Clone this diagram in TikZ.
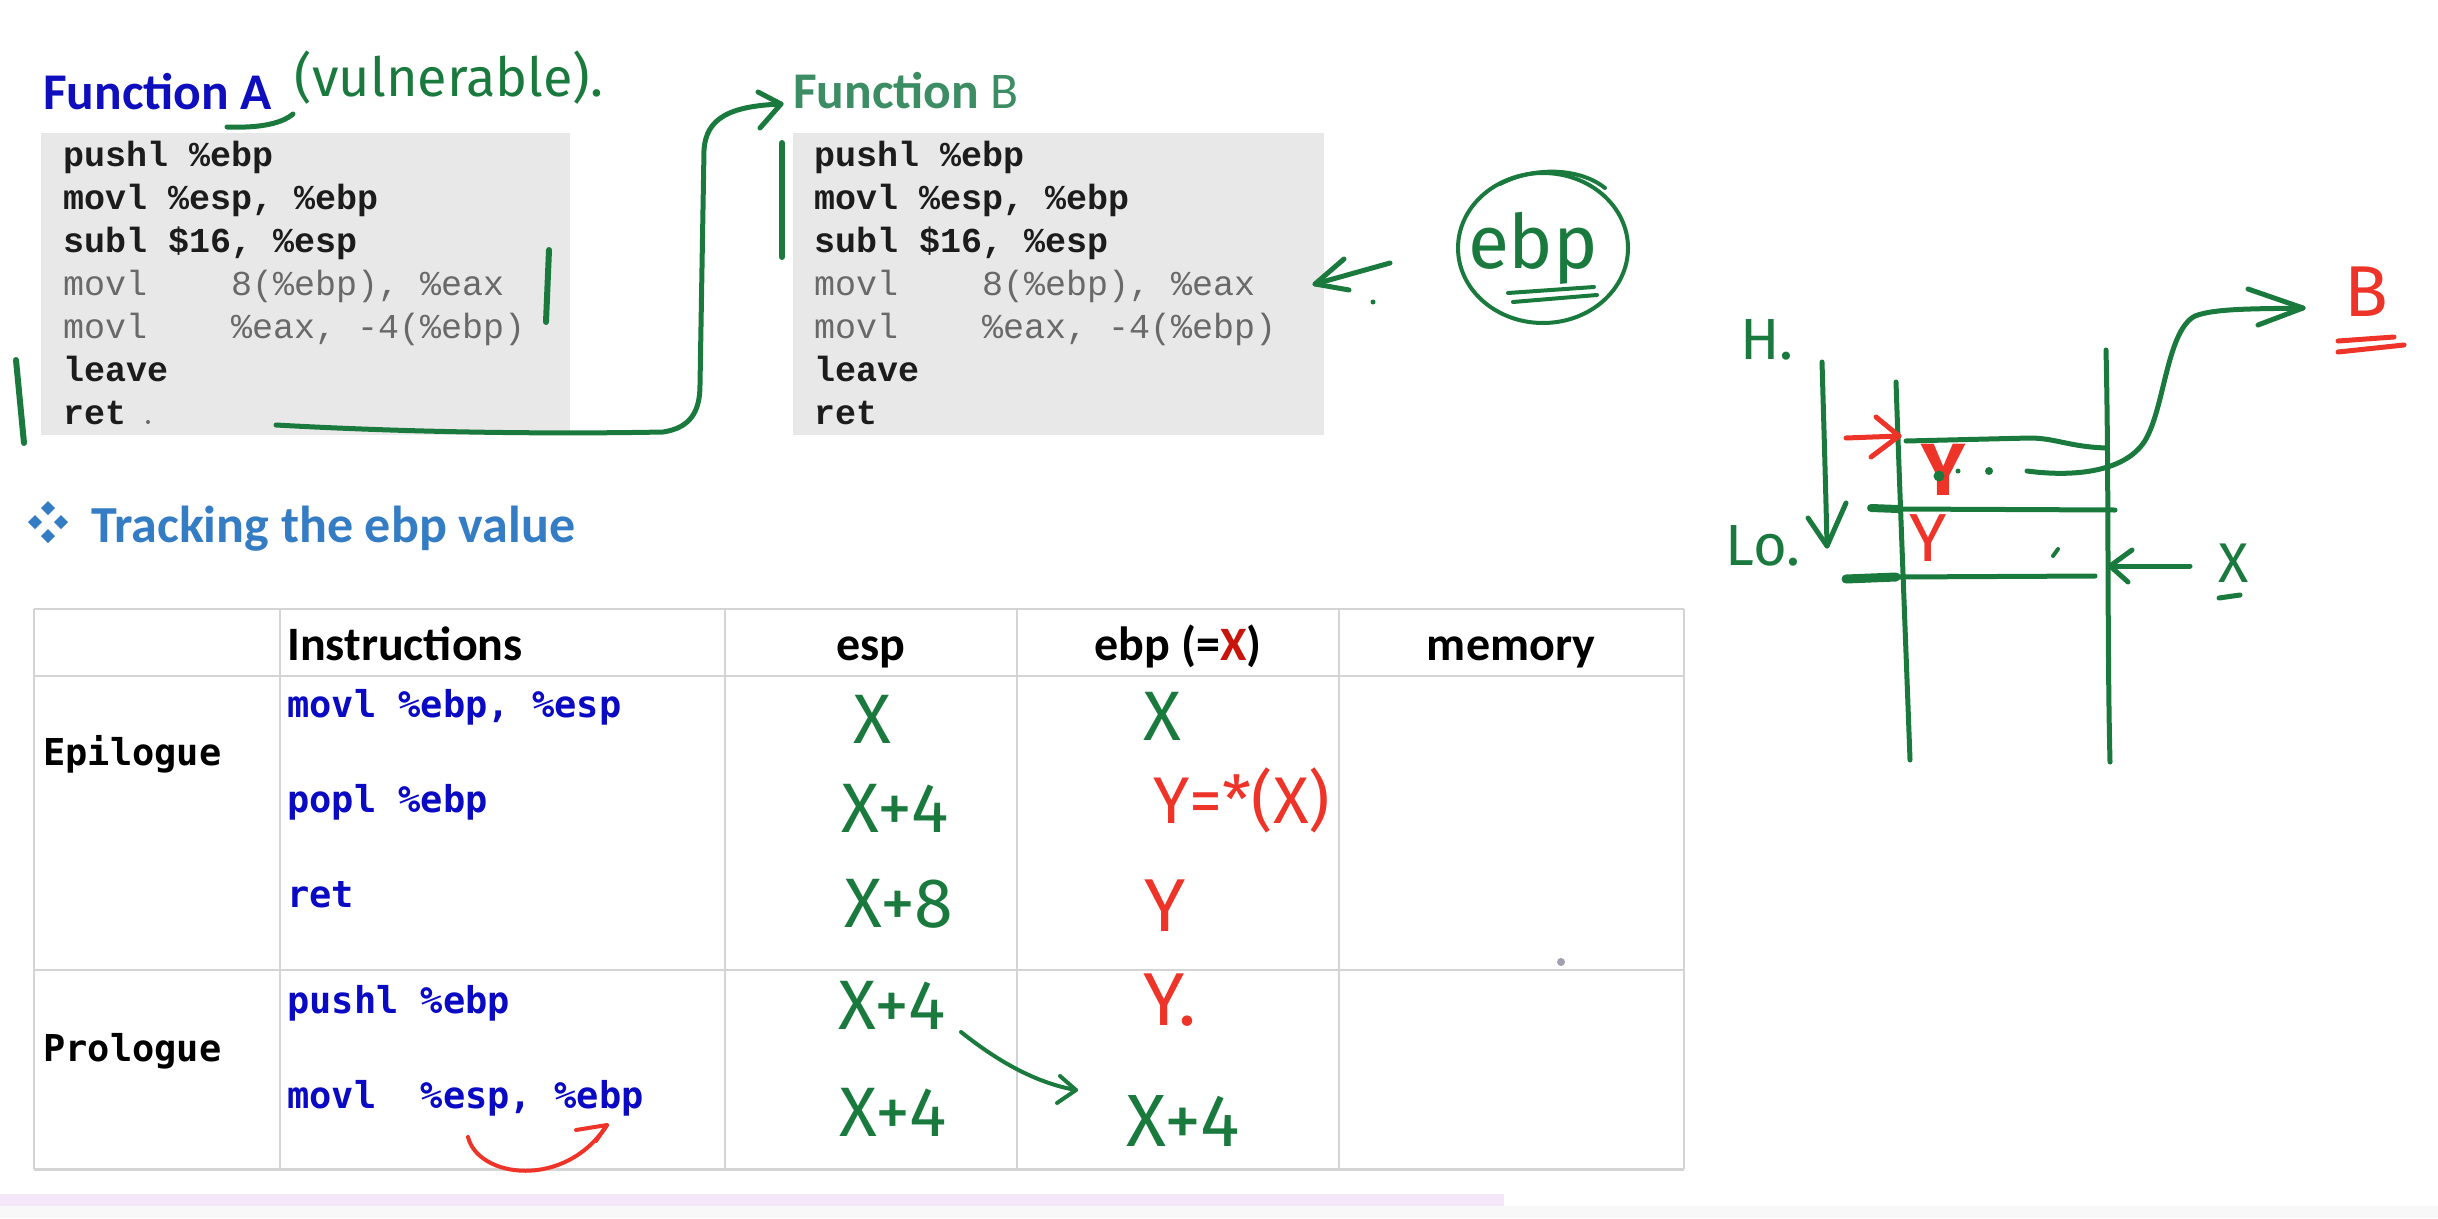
\documentclass[tikz,border=0pt]{standalone}
\usepackage{fontspec}
\setmainfont{Carlito}
\newfontfamily\codefont{Liberation Mono}
\newfontfamily\consfont{DejaVu Sans Mono}
\newfontfamily\handfont{Fira Sans}
\definecolor{hgreen}{RGB}{26,122,62}
\definecolor{hred}{RGB}{238,52,40}
\definecolor{titleblue}{RGB}{14,14,190}
\definecolor{titlegreen}{RGB}{60,140,100}
\definecolor{headblue}{RGB}{52,124,196}
\definecolor{insblue}{RGB}{10,10,196}
\definecolor{codebg}{RGB}{232,232,232}
\definecolor{codedark}{RGB}{28,28,28}
\definecolor{codegray}{RGB}{105,105,105}
\definecolor{gridgray}{RGB}{212,212,212}
\definecolor{xred}{RGB}{200,20,10}
\definecolor{bandlav}{RGB}{245,230,250}
\definecolor{bandgray}{RGB}{248,248,248}
\definecolor{dotgray}{RGB}{160,160,175}
\begin{document}
\begin{tikzpicture}[x=1pt,y=-1pt,
  pen/.style={draw=hgreen,line width=5,line cap=round,line join=round},
  rpen/.style={draw=hred,line width=5,line cap=round,line join=round},
  ttl/.style={anchor=base west,inner sep=0,font=\fontsize{51.5}{60}\selectfont},
  codeb/.style={anchor=base west,inner sep=0,text=codedark,font=\codefont\fontsize{35}{40}\selectfont\bfseries},
  coder/.style={anchor=base west,inner sep=0,text=codegray,font=\codefont\fontsize{35}{40}\selectfont},
  hand/.style={inner sep=0,text=hgreen,font=\handfont\fontsize{70}{80}\selectfont},
  rhand/.style={hand,text=hred},
  ins/.style={anchor=base west,inner sep=0,text=insblue,font=\consfont\fontsize{37}{44}\selectfont\bfseries},
  rowlab/.style={ins,text=black},
  hdr/.style={anchor=base,inner sep=0,text=black,font=\fontsize{48}{56}\selectfont\bfseries},
  grid/.style={draw=gridgray,line width=2},
  codebox/.style={fill=codebg,draw=none}
]
\useasboundingbox (0,0) rectangle (2438,1218);
\fill[white] (0,0) rectangle (2438,1218);
\fill[bandgray] (0,1206) rectangle (2438,1218);
\fill[bandlav] (0,1194) rectangle (1504,1206);

% ---------- Function A ----------
\node[ttl,text=titleblue] (fa) at (43,109) {\bfseries Function A};
\fill[codebox] (41,133) rectangle (570,435);
\node[codeb] (a1) at (63,166) {pushl \%ebp};
\node[codeb] (a2) at (63,209) {movl \%esp, \%ebp};
\node[codeb] (a3) at (63,252) {subl \$16, \%esp};
\node[coder] (a4) at (63,295) {movl\ \ \ \ 8(\%ebp), \%eax};
\node[coder] (a5) at (63,338) {movl\ \ \ \ \%eax, -4(\%ebp)};
\node[codeb] (a6) at (63,381) {leave};
\node[codeb] (a7) at (63,424) {ret};

% ---------- Function B ----------
\node[ttl,text=titlegreen] (fb) at (793,108) {\bfseries Function\mdseries\ B};
\fill[codebox] (793,133) rectangle (1324,435);
\node[codeb] (b1) at (814,166) {pushl \%ebp};
\node[codeb] (b2) at (814,209) {movl \%esp, \%ebp};
\node[codeb] (b3) at (814,252) {subl \$16, \%esp};
\node[coder] (b4) at (814,295) {movl\ \ \ \ 8(\%ebp), \%eax};
\node[coder] (b5) at (814,338) {movl\ \ \ \ \%eax, -4(\%ebp)};
\node[codeb] (b6) at (814,381) {leave};
\node[codeb] (b7) at (814,424) {ret};

% ---------- annotations top ----------
\draw[pen] (227,127) .. controls (255,128) and (280,125) .. (293,114);
\node[hand,font=\handfont\fontsize{54}{60}\selectfont] (vuln) at (449,78) {(vulnerable).};
\draw[pen,line width=6] (549,250) -- (546,322);
\draw[pen,line width=6] (16,360) -- (24,443);
\fill[codegray] (148,422) circle (2);
\coordinate (retA) at (276,425);
\coordinate (tipB) at (781,104);
\draw[pen] (retA) .. controls (420,433) and (560,434) .. (663,432)
  .. controls (690,428) and (700,412) .. (700,385)
  -- (704,150) .. controls (706,118) and (730,106) .. (tipB);
\draw[pen] (758,92) -- (tipB) -- (760,128);
\draw[pen,line width=6] (782,143) -- (782,257);
\coordinate (tipL) at (1315,284);
\draw[pen] (1390,263) -- (tipL);
\draw[pen] (1344,259) -- (tipL) -- (1349,290);
\fill[hgreen] (1373,302) circle (2.5);
\node[hand,font=\handfont\fontsize{75}{80}\selectfont] (ebpc) at (1533,248) {ebp};
\draw[pen,line width=4] (1543,248) ellipse [x radius=85, y radius=75];
\draw[pen,line width=4] (1500,184) .. controls (1535,166) and (1580,168) .. (1605,188);
\draw[pen,line width=4] (1508,293) -- (1594,287);
\draw[pen,line width=4] (1513,302) -- (1597,295);

% ---------- heading ----------
\foreach \cx/\cy in {48/508, 35/522, 61/522, 48/536}
  \fill[headblue] (\cx-7,\cy) -- (\cx,\cy-7) -- (\cx+7,\cy) -- (\cx,\cy+7) -- cycle;
\node[anchor=base west,inner sep=0,text=headblue,font=\fontsize{52}{60}\selectfont\bfseries] (track) at (91,542) {Tracking the ebp value};

% ---------- table ----------
\foreach \yy in {609,676,970} \draw[grid] (34,\yy) -- (1684,\yy);
\draw[grid,line width=3] (34,1169) -- (1684,1169);
\foreach \xx in {34,280,725,1017,1339,1684} \draw[grid] (\xx,609) -- (\xx,1169);
\node[anchor=base west,inner sep=0,font=\fontsize{48}{56}\selectfont\bfseries] (hins) at (287,660) {Instructions};
\node[hdr] (hesp) at (871,660) {esp};
\node[hdr] (hebp) at (1178,660) {ebp (=\textcolor{xred}{X})};
\node[hdr] (hmem) at (1511,660) {memory};
\node[rowlab] (epi) at (43,765) {Epilogue};
\node[rowlab] (pro) at (43,1061) {Prologue};
\node[ins] (i1) at (287,717) {movl \%ebp, \%esp};
\node[ins] (i2) at (287,812) {popl \%ebp};
\node[ins] (i3) at (287,907) {ret};
\node[ins] (i4) at (287,1013) {pushl \%ebp};
\node[ins] (i5) at (287,1108) {movl\ \ \%esp, \%ebp};

\node[hand] (s1) at (872,719) {X};
\node[hand] (s2) at (895,808) {X+4};
\node[hand] (s3) at (899,904) {X+8};
\node[hand] (s4) at (892,1005) {X+4};
\node[hand] (s5) at (893,1112) {X+4};
\node[hand] (e1) at (1162,716) {X};
\node[rhand,font=\handfont\fontsize{66}{72}\selectfont] (e2) at (1242,800) {Y=*(X)};
\node[rhand,font=\handfont\fontsize{75}{80}\selectfont] (e3) at (1165,906) {Y};
\node[rhand,font=\handfont\fontsize{75}{80}\selectfont] (e4) at (1170,1000) {Y.};
\node[hand,font=\handfont\fontsize{74}{80}\selectfont] (e5) at (1183,1121) {X+4};
\coordinate (gtip) at (1076,1090);
\draw[pen,line width=4] (961,1032) .. controls (990,1055) and (1030,1082) .. (gtip);
\draw[pen,line width=4] (1060,1076) -- (gtip) -- (1057,1103);
\fill[dotgray] (1561,962) circle (4);
\coordinate (rtip) at (607,1125);
\draw[rpen,line width=4] (468,1137) .. controls (478,1178) and (565,1190) .. (rtip);
\draw[rpen,line width=4] (576,1130) -- (rtip) -- (596,1141);

% ---------- stack sketch ----------
\node[hand,font=\handfont\fontsize{58}{64}\selectfont] (hi) at (1767,340) {H.};
\node[hand,font=\handfont\fontsize{58}{64}\selectfont] (lo) at (1763,546) {Lo.};
\coordinate (dtip) at (1827,546);
\draw[pen] (1822,362) .. controls (1824,430) and (1826,500) .. (dtip);
\draw[pen] (1808,518) -- (dtip) -- (1846,503);
\draw[pen] (1896,382) .. controls (1900,500) and (1906,650) .. (1910,760);
\draw[pen] (2106,350) .. controls (2109,480) and (2107,640) .. (2110,762);
\draw[pen] (1906,441) -- (2030,438) .. controls (2055,438) and (2070,447) .. (2107,448);
\draw[pen,line width=8] (1871,508) -- (1898,509);
\draw[pen] (1898,509) -- (2115,510);
\draw[pen,line width=9] (1846,579) -- (1896,577);
\draw[pen] (1896,577) -- (2095,576);
\coordinate (rin) at (1899,436);
\draw[rpen] (1846,438) -- (rin);
\draw[rpen] (1876,417) -- (rin) -- (1871,457);
\node[rhand,font=\handfont\bfseries\fontsize{74}{80}\selectfont] (y1) at (1943,470) {Y};
\fill[hgreen] (1939,476) circle (5.5);
\fill[hgreen] (1958,471) circle (2.5);
\fill[hgreen] (1989,471) circle (4);
\coordinate (btip) at (2303,308);
\draw[pen] (2027,471) .. controls (2080,478) and (2132,470) .. (2148,435)
  .. controls (2165,400) and (2168,330) .. (2195,316)
  .. controls (2215,308) and (2260,309) .. (btip);
\draw[pen] (2248,289) -- (btip) -- (2258,325);
\node[rhand,font=\handfont\fontsize{72}{78}\selectfont] (bB) at (2366,292) {B};
\draw[rpen] (2338,341) -- (2394,337);
\draw[rpen] (2338,352) -- (2404,345);
\node[rhand,font=\handfont\fontsize{68}{74}\selectfont] (y2) at (1928,538) {Y};
\draw[pen,line width=4] (2053,556) -- (2058,549);
\coordinate (xtip) at (2110,566);
\draw[pen] (2190,566) -- (xtip);
\draw[pen] (2132,550) -- (xtip) -- (2128,582);
\node[hand,font=\handfont\fontsize{56}{60}\selectfont] (xs) at (2234,563) {X};
\draw[pen] (2219,598) -- (2240,595);
\end{tikzpicture}
\end{document}
